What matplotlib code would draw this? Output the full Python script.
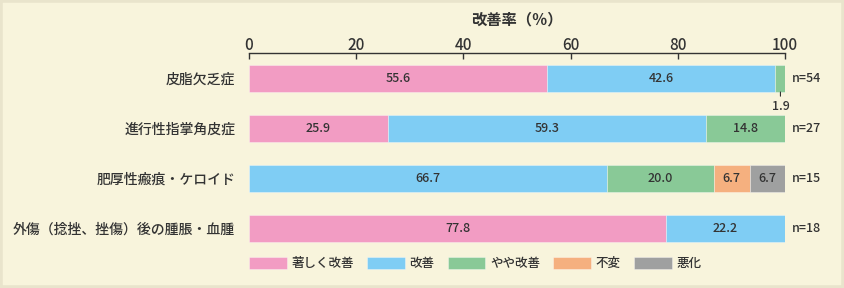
import matplotlib
matplotlib.use('Agg')
from matplotlib import pyplot as plt
from matplotlib.patches import Rectangle
import numpy as np

plt.rcParams['font.family'] = ['Noto Sans CJK JP', 'DejaVu Sans']
plt.rcParams['font.weight'] = 'medium'

categories = ['皮脂欠乏症', '進行性指掌角皮症', '肥厚性瘢痕・ケロイド', '外傷（捻挫、挫傷）後の腫脹・血腫']
series_names = ['著しく改善', '改善', 'やや改善', '不変', '悪化']
values = {
    '著しく改善': [55.6, 25.9, 0.0, 77.8],
    '改善': [42.6, 59.3, 66.7, 22.2],
    'やや改善': [1.9, 14.8, 20.0, 0.0],
    '不変': [0.0, 0.0, 6.7, 0.0],
    '悪化': [0.0, 0.0, 6.7, 0.0],
}
n_counts = [54, 27, 15, 18]
colors = ['#f29cc3', '#7fcdf4', '#89c997', '#f5b07f', '#9fa0a0']
ticks = [0, 20, 40, 60, 80, 100]

bg = '#f8f4dc'
txt = '#333333'

fig = plt.figure(figsize=(8.44, 2.88), dpi=100, facecolor=bg)
fig.patches.append(Rectangle((0, 0), 1, 1, transform=fig.transFigure,
                             facecolor='none', edgecolor='#e9e4cc', lw=4))
ax = fig.add_axes([249 / 844, 1 - 245 / 288, 536 / 844, 192 / 288])
ax.set_facecolor(bg)

y = np.arange(len(categories))
left = np.zeros(len(categories))
for name, c in zip(series_names, colors):
    v = np.array(values[name])
    bars = ax.barh(y, v, left=left, height=0.54, color=c, label=name,
                   edgecolor='#ffffff80', linewidth=0.5)
    labels = ['' if (val == 0 or val < 3) else f'{val:.1f}' for val in v]
    ax.bar_label(bars, labels=labels, label_type='center', fontsize=9, color=txt)
    for i, val in enumerate(v):
        if 0 < val < 3:
            ax.annotate(f'{val:.1f}', xy=(left[i] + val / 2, y[i] + 0.27),
                        xytext=(0, -6), textcoords='offset points',
                        ha='center', va='top', fontsize=9, color=txt,
                        arrowprops=dict(arrowstyle='-', color=txt, lw=0.8,
                                        shrinkA=1, shrinkB=0))
    left += v

for i, n in enumerate(n_counts):
    ax.annotate(f'n={n}', xy=(100, y[i]), xytext=(5, 0), textcoords='offset points',
                ha='left', va='center', fontsize=9, color=txt)

ax.set_xlim(0, 100)
ax.set_ylim(3.33, -0.51)
ax.set_yticks(y)
ax.set_yticklabels(categories, fontsize=10, color=txt)
ax.tick_params(axis='y', length=0, pad=10)
ax.xaxis.tick_top()
ax.set_xticks(ticks)
ax.tick_params(axis='x', direction='in', length=4, width=1, labelsize=11,
               colors=txt, pad=-1)
for s in ['left', 'right', 'bottom']:
    ax.spines[s].set_visible(False)
ax.spines['top'].set_color(txt)
ax.spines['top'].set_linewidth(1)
ax.set_title('改善率（％）', fontsize=11, fontweight='bold', color=txt, pad=9)

fig.legend(loc='upper left', bbox_to_anchor=(249 / 844, 1 - 257 / 288), ncol=5,
           frameon=False, fontsize=9, handlelength=3.0, handleheight=1.1,
           handletextpad=0.4, columnspacing=1.05, labelcolor=txt,
           borderpad=0, borderaxespad=0)

fig.savefig('out.png', dpi=100, facecolor=bg)
